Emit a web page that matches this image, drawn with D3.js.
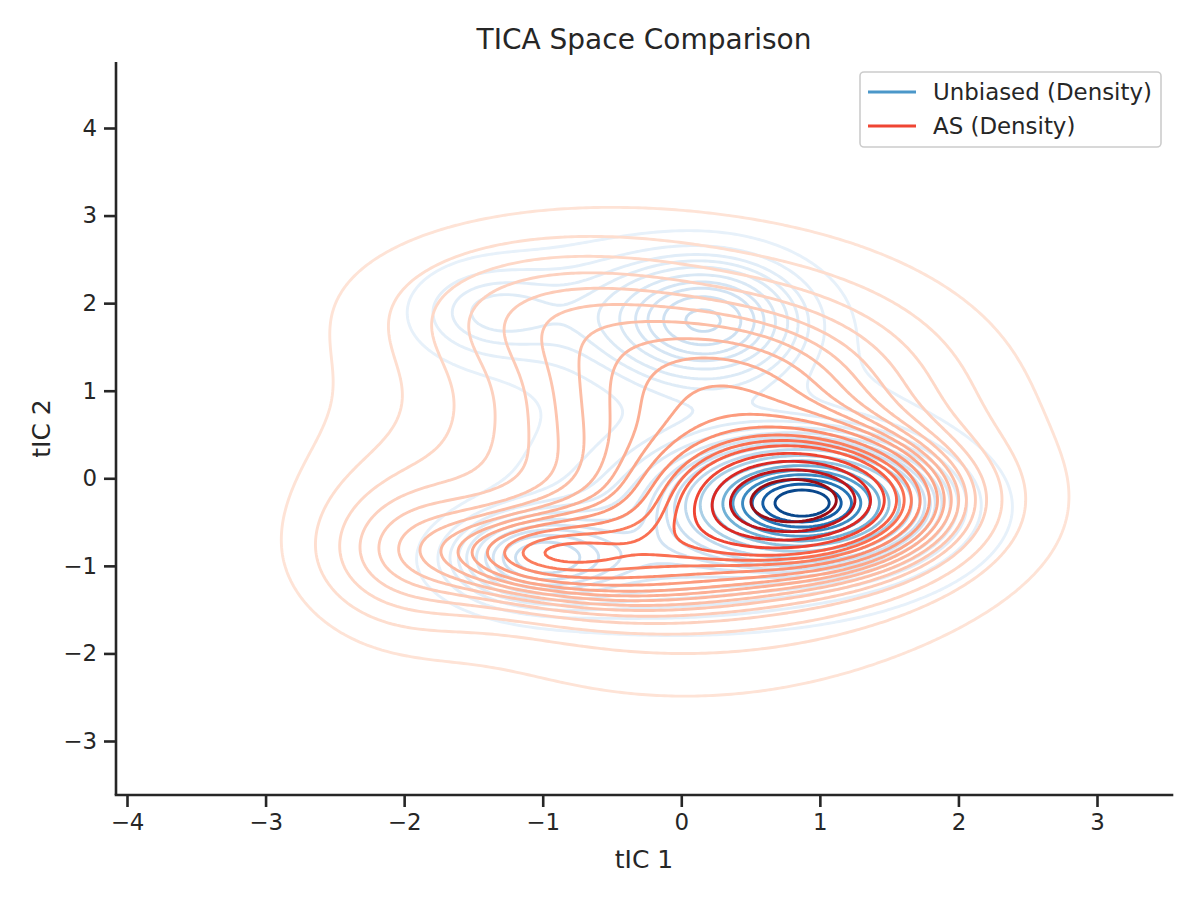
<!DOCTYPE html>
<html><head><meta charset="utf-8">
<script src="https://cdn.jsdelivr.net/npm/d3@7"></script>
<style>body{margin:0;background:#fff} svg{font-family:"DejaVu Sans",sans-serif;}</style>
</head><body><svg id="c" width="1200" height="901"></svg>
<script>
// ---- data ----
const xTicks = [-4, -3, -2, -1, 0, 1, 2, 3];
const yTicks = [-3, -2, -1, 0, 1, 2, 3, 4];
const seriesNames = ["Unbiased (Density)", "AS (Density)"];
// Density model of each series: Gaussian components [meanX, meanY, sdX, sdY, corr, weight]
const unbiasedComponents = [
  [0.88, -0.28, 0.42, 0.32, 0.0, 0.42],
  [0.70, -0.40, 0.85, 0.62, 0.0, 0.16],
  [0.20,  1.80, 0.40, 0.42, 0.0, 0.075],
  [-0.30, 1.90, 0.75, 0.52, 0.0, 0.07],
  [-1.05, -0.90, 0.35, 0.30, 0.0, 0.05],
  [-0.50, -1.00, 0.70, 0.40, 0.0, 0.06],
  [0.30,  0.20, 1.05, 1.10, 0.0, 0.12],
  [-1.40, 1.90, 0.35, 0.35, 0.0, 0.02]
];
const asComponents = [
  [0.85, -0.25, 0.55, 0.42, 0.0, 0.24],
  [0.90, -0.40, 0.85, 0.65, 0.0, 0.07],
  [-1.00, -0.85, 0.35, 0.22, 0.0, 0.013],
  [-0.50, -0.90, 0.75, 0.38, 0.0, 0.10],
  [0.00,  0.20, 1.30, 1.38, 0.0, 0.38],
  [0.40,  1.10, 0.80, 0.65, 0.0, 0.08],
  [-1.00, 1.95, 0.80, 0.55, 0.0, 0.045],
  [-2.00, -0.80, 0.45, 0.60, 0.0, 0.03]
];
const levelCount = 20;
const levelThresh = 0.05;

// ---- layout ----
const svg = d3.select("#c");
const L = 116, R = 1172, T = 62, B = 795;
const x = d3.scaleLinear().domain([-4, 3]).range([127, 1097]);
const y = d3.scaleLinear().domain([-3, 4]).range([741, 128]);
const xDom = [x.invert(L), x.invert(R)], yDom = [y.invert(B), y.invert(T)];

const nx = 300, ny = 320;
const gx0 = xDom[0] - 0.2, gx1 = xDom[1] + 0.2, gy0 = yDom[0] - 0.2, gy1 = yDom[1] + 0.2;
const dx = (gx1 - gx0) / (nx - 1), dy = (gy1 - gy0) / (ny - 1);

function densityGrid(comps) {
  const v = new Float64Array(nx * ny);
  for (let j = 0; j < ny; j++) {
    const yy = gy1 - j * dy;
    for (let i = 0; i < nx; i++) {
      const xx = gx0 + i * dx;
      let s = 0;
      for (const [mx, my, sx, sy, r, w] of comps) {
        const u = (xx - mx) / sx, t = (yy - my) / sy;
        const q = (u * u - 2 * r * u * t + t * t) / (1 - r * r);
        s += w / (2 * Math.PI * sx * sy * Math.sqrt(1 - r * r)) * Math.exp(-0.5 * q);
      }
      v[j * nx + i] = s;
    }
  }
  return v;
}
function isoLevels(v) {
  const sorted = Array.from(v).sort((a, b) => b - a);
  const total = d3.sum(sorted);
  const cum = new Float64Array(sorted.length);
  let acc = 0;
  for (let k = 0; k < sorted.length; k++) { acc += sorted[k]; cum[k] = acc / total; }
  const props = d3.range(levelCount).map(k => levelThresh + (1 - levelThresh) * k / (levelCount - 1));
  return props.map(p => {
    const target = 1 - p;
    let idx = d3.bisectLeft(cum, target);
    idx = Math.min(idx, sorted.length - 1);
    return sorted[idx];
  });
}
const proj = d3.geoTransform({
  point: function(px, py) {
    this.stream.point(x(gx0 + (px - 0.5) * dx), y(gy1 - (py - 0.5) * dy));
  }
});
const path = d3.geoPath(proj);

svg.append("clipPath").attr("id", "clip").append("rect")
  .attr("x", L).attr("y", T).attr("width", R - L).attr("height", B - T);
const plot = svg.append("g").attr("clip-path", "url(#clip)");

function drawSeries(comps, interp, lo, hi) {
  const v = densityGrid(comps);
  const lv = isoLevels(v);
  const lmin = lv[0], lmax = lv[lv.length - 1];
  const drawn = lv.slice(0, -1);
  const cs = d3.contours().size([nx, ny]).thresholds(drawn)(v);
  plot.append("g").selectAll("path").data(cs).join("path")
    .attr("d", path)
    .attr("fill", "none")
    .attr("stroke-width", 2.9)
    .attr("stroke-linejoin", "round")
    .attr("stroke", d => interp(lo + (hi - lo) * (d.value - lmin) / (lmax - lmin)));
}
drawSeries(unbiasedComponents, d3.interpolateBlues, 0.08, 1.0);
drawSeries(asComponents, d3.interpolateReds, 0.1, 1.0);

// ---- axes ----
const ax = svg.append("g").attr("transform", `translate(0,${B})`)
  .call(d3.axisBottom(x).tickValues(xTicks).tickSize(12).tickPadding(7)
    .tickFormat(d => d < 0 ? "\u2212" + Math.abs(d) : d));
const ay = svg.append("g").attr("transform", `translate(${L},0)`)
  .call(d3.axisLeft(y).tickValues(yTicks).tickSize(12).tickPadding(7)
    .tickFormat(d => d < 0 ? "\u2212" + Math.abs(d) : d));
ax.select(".domain").attr("d", `M${L},0H${R}`);
ay.select(".domain").attr("d", `M0,${B}V${T}`);
[ax, ay].forEach(a => {
  a.selectAll(".domain, .tick line").attr("stroke", "#262626").attr("stroke-width", 2.6);
  a.selectAll(".tick text").attr("fill", "#262626").attr("font-size", 22.9)
    .attr("font-family", "DejaVu Sans");
});
ax.select(".domain").attr("stroke-linecap", "square");

svg.append("text").attr("x", (L + R) / 2).attr("y", 868).attr("text-anchor", "middle")
  .attr("font-size", 25).attr("fill", "#262626").text("tIC 1");
svg.append("text").attr("transform", `translate(50,${(T + B) / 2}) rotate(-90)`)
  .attr("text-anchor", "middle").attr("font-size", 25).attr("fill", "#262626").text("tIC 2");
svg.append("text").attr("x", (L + R) / 2).attr("y", 49).attr("text-anchor", "middle")
  .attr("font-size", 28).attr("fill", "#262626").text("TICA Space Comparison");

// ---- legend ----
const lg = svg.append("g");
lg.append("rect").attr("x", 860).attr("y", 72).attr("width", 301).attr("height", 75)
  .attr("rx", 4).attr("fill", "#fff").attr("fill-opacity", 0.8)
  .attr("stroke", "#cccccc").attr("stroke-width", 1.6);
const legendColors = [d3.interpolateBlues(0.6), d3.interpolateReds(0.6)];
seriesNames.forEach((n, k) => {
  const cy = 92 + k * 34;
  lg.append("line").attr("x1", 868).attr("x2", 916).attr("y1", cy).attr("y2", cy)
    .attr("stroke", legendColors[k]).attr("stroke-width", 3.1);
  lg.append("text").attr("x", 933).attr("y", cy + 8).attr("font-size", 22.9)
    .attr("fill", "#262626").text(n);
});
</script></body></html>
